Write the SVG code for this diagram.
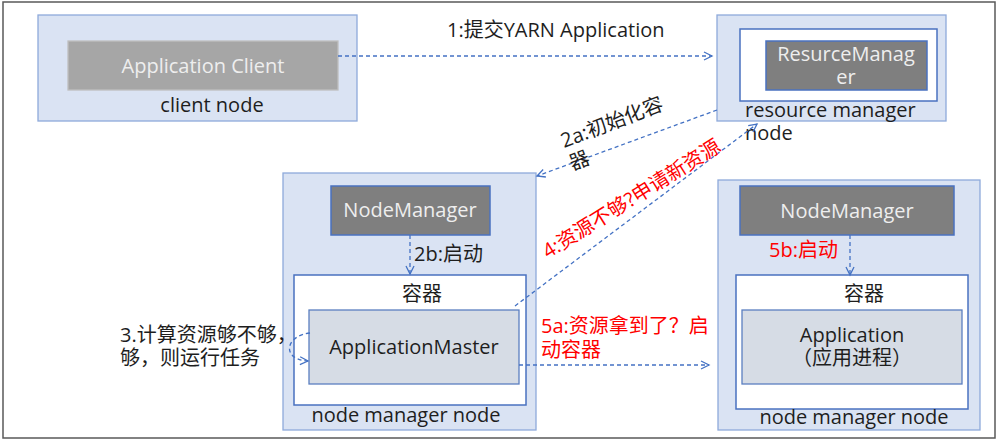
<svg xmlns="http://www.w3.org/2000/svg" width="997" height="443" viewBox="0 0 997 443">
<defs>
<marker id="arr" markerUnits="userSpaceOnUse" markerWidth="12" markerHeight="12" refX="9" refY="5" orient="auto" viewBox="0 0 12 10">
<path d="M1,1 L9,5 L1,9" fill="none" stroke="#4472c4" stroke-width="1.3"/>
</marker>
<style>
text { font-family: "Open Sans","Noto Sans CJK SC",sans-serif; font-size: 20px; fill: #1e1e1e; }
.mid { text-anchor: middle; }
.node { fill: #dae3f3; stroke: #8eaadb; stroke-width: 1.3; }
.cont { fill: #ffffff; stroke: #4a72c0; stroke-width: 1.5; }
.dark { fill: #7f7f7f; stroke: #4a72c0; stroke-width: 1.5; }
.am { fill: #d6dce5; stroke: #5b7fc0; stroke-width: 1.3; }
.lt { fill: #eeeeee; }
.red { fill: #ff0000; }
.conn path { fill: none; stroke: #4472c4; stroke-width: 1.3; stroke-dasharray: 4 3; marker-end: url(#arr); }
</style>
</defs>
<rect x="0" y="0" width="997" height="443" fill="#ffffff"/>
<rect x="3" y="2" width="992" height="436" fill="#ffffff" stroke="#595959" stroke-width="1.5"/>

<g id="client-node">
<rect class="node" x="38" y="15" width="319" height="106"/>
<rect x="68" y="41" width="270" height="49" fill="#a6a6a6" stroke="#bfbfbf" stroke-width="1.3"/>
<text class="mid lt" x="203" y="73">Application Client</text>
<text class="mid" x="212" y="112">client node</text>
</g>

<g id="resource-manager-node">
<rect class="node" x="717" y="15" width="229" height="106"/>
<rect class="cont" x="740" y="29" width="197" height="72"/>
<rect class="dark" x="766" y="41" width="161" height="49"/>
<text class="mid lt" x="846" y="61">ResurceManag</text>
<text class="mid lt" x="846" y="84">er</text>
<text x="745" y="117">resource manager</text>
<text x="745" y="140">node</text>
</g>

<g id="node-manager-node-1">
<rect class="node" x="283" y="173" width="253" height="257"/>
<rect class="dark" x="331" y="186" width="159" height="49"/>
<text class="mid lt" x="410" y="217">NodeManager</text>
<rect class="cont" x="294" y="275" width="232" height="130"/>
<text class="mid" x="422" y="301">容器</text>
<rect class="am" x="309" y="310" width="210" height="74"/>
<text class="mid" x="414" y="354">ApplicationMaster</text>
<text class="mid" x="406" y="422">node manager node</text>
</g>

<g id="node-manager-node-2">
<rect class="node" x="718" y="180" width="262" height="250"/>
<rect class="dark" x="740" y="186" width="214" height="49"/>
<text class="mid lt" x="847" y="218">NodeManager</text>
<rect class="cont" x="736" y="275" width="232" height="134"/>
<text class="mid" x="864" y="301">容器</text>
<rect class="am" x="742" y="310" width="220" height="74"/>
<text class="mid" x="852" y="342">Application</text>
<text class="mid" x="852" y="365">（应用进程）</text>
<text class="mid" x="854" y="424">node manager node</text>
</g>

<g class="conn" id="connectors">
<path d="M338,56 H712"/>
<path d="M717,110 L537,176"/>
<path d="M410,235 V274"/>
<path d="M310,333 C284,336 282,360 308,361"/>
<path d="M515,306 L757,124"/>
<path d="M519,365 H709"/>
<path d="M850,235 V275"/>
</g>

<g id="labels">
<text x="447" y="37">1:提交YARN Application</text>
<g transform="translate(564,148) rotate(-21)">
<text x="0" y="0">2a:初始化容</text>
<text x="0" y="24">器</text>
</g>
<text x="414" y="261">2b:启动</text>
<text x="120" y="342">3.计算资源够不够，</text>
<text x="120" y="365">够，则运行任务</text>
<text class="red" transform="translate(548,259) rotate(-32)">4:资源不够?申请新资源</text>
<text class="red" x="541" y="333">5a:资源拿到了？启</text>
<text class="red" x="541" y="357">动容器</text>
<text class="red" x="769" y="257">5b:启动</text>
</g>
</svg>
